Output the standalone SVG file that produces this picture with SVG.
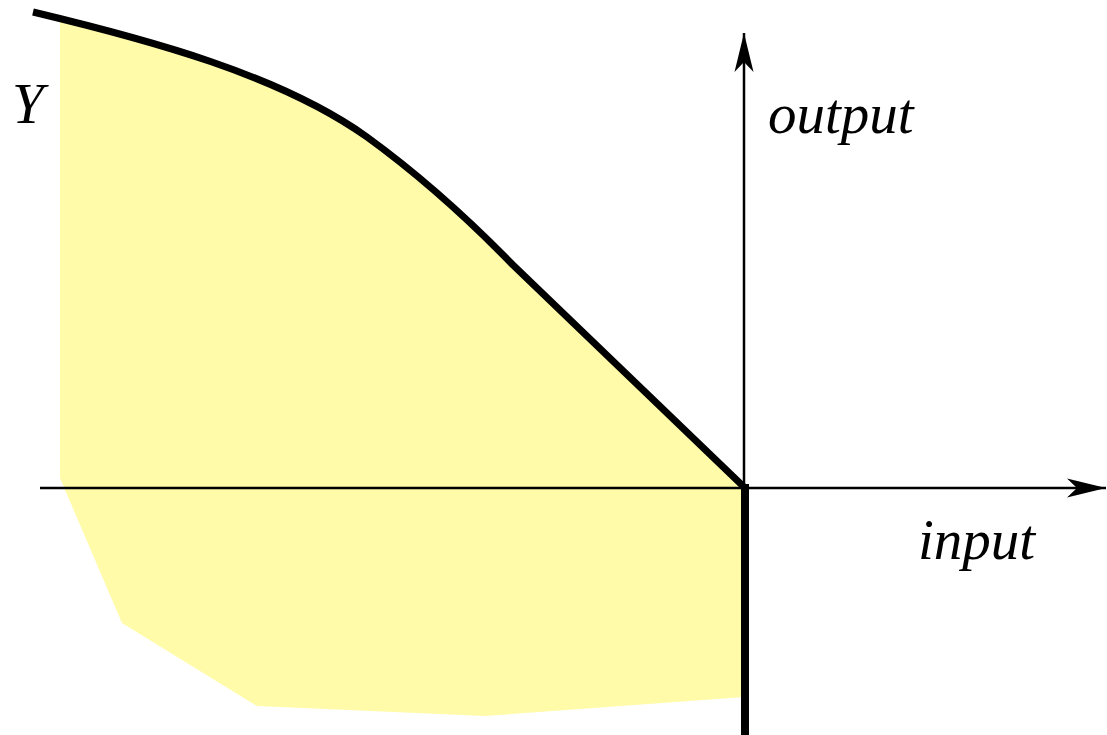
<svg xmlns="http://www.w3.org/2000/svg" width="1107" height="735" viewBox="0 0 1107 735">
<style>
.lbl{font-family:"Liberation Serif","Times New Roman",serif;font-style:italic;font-size:57px;fill:#000}
.axis{stroke:#000;stroke-width:2.5;fill:none}
</style>
<defs>
<marker id="arr" markerUnits="userSpaceOnUse" markerWidth="42" markerHeight="22" viewBox="0 0 42 22" refX="41" refY="11" orient="auto">
<path d="M41,11 L2,1.5 L12,11 L2,20.5 Z" fill="#000"/>
</marker>
</defs>
<rect width="1107" height="735" fill="#fff"/>
<g id="region">
<path d="M60,20 C150,40 280,75 367,137 Q440,190 513,265 L744,487 L744,697 L485,716 L257,706 L122,623 L60,478 Z" fill="#fffba9"/>
</g>
<g id="connectors">
<line class="axis" x1="40" y1="488" x2="1106" y2="488" marker-end="url(#arr)"/>
<line class="axis" x1="744" y1="488" x2="744" y2="33" marker-end="url(#arr)"/>
<path d="M33,12 C150,40 280,75 367,137 Q440,190 513,265 L744,487" fill="none" stroke="#000" stroke-width="7" stroke-linejoin="round"/>
<line x1="745" y1="484" x2="745" y2="735" stroke="#000" stroke-width="8"/>
</g>
<g id="labels">
<text class="lbl" x="12" y="123">Y</text>
<text class="lbl" x="768" y="133">output</text>
<text class="lbl" x="918" y="559">input</text>
</g>
</svg>
